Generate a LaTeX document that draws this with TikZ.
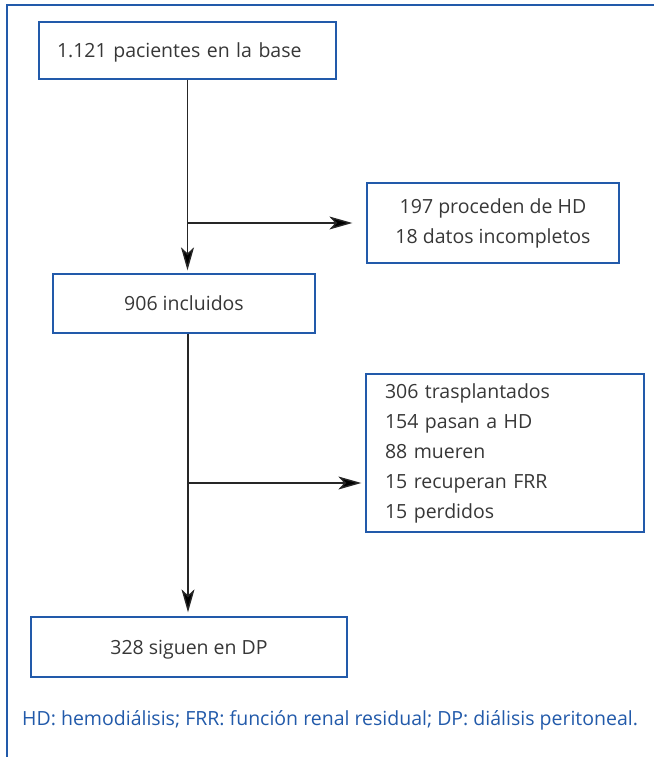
\documentclass[tikz,border=0pt]{standalone}
\usepackage{fontspec}
\setmainfont{Open Sans}
\definecolor{frameblue}{RGB}{34,90,170}
\definecolor{textgray}{RGB}{55,55,55}
\usetikzlibrary{arrows.meta,positioning,calc}

\begin{document}
\begin{tikzpicture}[x=1pt,y=-1pt,
  fbox/.style={draw=frameblue,line width=1.3pt,text=textgray,
    font=\fontsize{19.5}{30}\selectfont,inner sep=0pt},
  sbox/.style={fbox,text depth=0pt},
  flow/.style={draw=black!85,line width=1.4pt,
    -{Stealth[length=23pt,width=13pt,inset=6pt,fill=black]}}
]
  \useasboundingbox (0,0) rectangle (654,757);
  % Frame
  \draw[frameblue,line width=1.8pt] (7,757) -- (7,5) -- (654,5);
  % Boxes
  \node[sbox,minimum width=297pt,minimum height=57pt,text width=261pt,align=left] (base) at (187.5,50.5) {1.121 pacientes en la base};
  \node[fbox,minimum width=252pt,minimum height=80pt,align=center] (excl) at (493,223) {197 proceden de HD\\18 datos incompletos};
  \node[sbox,minimum width=262pt,minimum height=59pt] (incl) at (184,303.5) {906 incluidos};
  \node[fbox,minimum width=278pt,minimum height=158pt,text width=240pt,align=left] (out) at (505,453) {306 trasplantados\\154 pasan a HD\\88 mueren\\15 recuperan FRR\\15 perdidos};
  \node[sbox,minimum width=316pt,minimum height=60pt] (dp) at (189,647) {328 siguen en DP};
  % Connectors
  \coordinate (j1) at (base.south |- excl.west);
  \coordinate (j2) at (188,483);
  \draw[flow,shorten >=3pt] (base.south) -- (base.south |- incl.north);
  \draw[flow,shorten >=14pt] (j1) -- (excl.west);
  \draw[flow,shorten >=4pt] (j2 |- incl.south) -- (j2 |- dp.north);
  \draw[flow,shorten >=4pt] (j2) -- (j2 -| out.west);
  % Footnote
  \node[anchor=west,text=frameblue,font=\fontsize{19.5}{22}\selectfont,inner sep=0pt] (note) at (22,720) {HD: hemodiálisis; FRR: función renal residual; DP: diálisis peritoneal.};
\end{tikzpicture}
\end{document}
